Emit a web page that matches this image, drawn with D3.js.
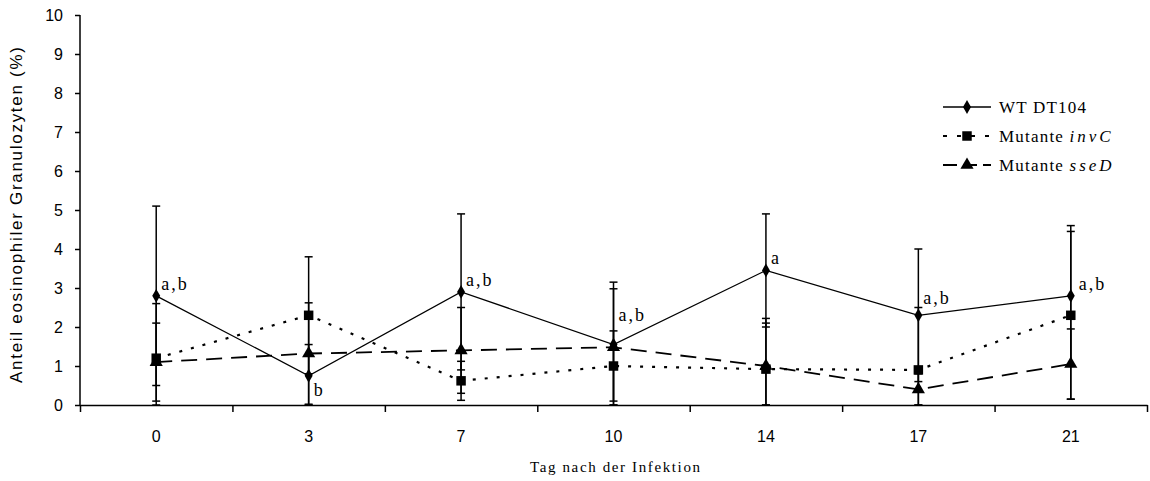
<!DOCTYPE html>
<html>
<head>
<meta charset="utf-8">
<script src="https://cdn.jsdelivr.net/npm/d3@7"></script>
<style>
  body { margin: 0; background: #fff; }
  svg { display: block; }
  .axis path, .axis line { stroke: #000; stroke-width: 1.5px; }
  .axis text { font-family: "Liberation Sans Narrow", "Liberation Sans", sans-serif; font-size: 16px; fill: #000; }
  .sig { font-family: "Liberation Serif", serif; font-size: 18px; letter-spacing: 2px; }
  .legend text { font-family: "Liberation Serif", serif; font-size: 17px; letter-spacing: 1.2px; }
</style>
</head>
<body>
<svg class="chart" width="1150" height="481"></svg>
<script>
const days = ["0", "3", "7", "10", "14", "17", "21"];
const yTicks = [0, 1, 2, 3, 4, 5, 6, 7, 8, 9, 10];

const wtMean = [2.8, 0.75, 2.9, 1.55, 3.45, 2.3, 2.8];
const wtSd = [2.3, 0.8, 2.0, 1.6, 1.45, 1.7, 1.8];
const invcMean = [1.2, 2.3, 0.62, 1.0, 0.92, 0.9, 2.3];
const invcSd = [1.4, 1.5, 0.5, 0.9, 1.3, 1.6, 2.15];
const ssedMean = [1.1, 1.32, 1.4, 1.48, 1.0, 0.4, 1.05];
const ssedSd = [1.0, 1.3, 1.1, 1.5, 1.1, 0.4, 0.9];
const sigLabels = ["a,b", "b", "a,b", "a,b", "a", "a,b", "a,b"];

const svg = d3.select('.chart');
const margin = { top: 15, right: 3, bottom: 76, left: 80 };
const width = +svg.attr('width') - margin.left - margin.right;
const height = +svg.attr('height') - margin.top - margin.bottom;

const x = d3.scaleBand().domain(days).range([0, width]).padding(0);
const xEdges = d3.scaleLinear().domain([0, days.length]).range([0, width]);
const y = d3.scaleLinear().domain([0, 10]).range([height, 0]);

const g = svg.append('g')
  .attr('transform', 'translate(' + margin.left + ',' + margin.top + ')');

const cx = d => x(d) + x.bandwidth() / 2;

// series definitions
const series = [
  { name: 'wt', mean: wtMean, sd: wtSd, dash: null, width: 1.3, marker: d3.symbolDiamond, size: 55 },
  { name: 'invc', mean: invcMean, sd: invcSd, dash: '3,9', width: 2.2, marker: d3.symbolSquare, size: 90 },
  { name: 'ssed', mean: ssedMean, sd: ssedSd, dash: '16,9', width: 1.8, marker: d3.symbolTriangle, size: 75 }
];

// error bars
series.forEach(s => {
  const eb = g.append('g').attr('class', 'errbar ' + s.name);
  days.forEach((d, i) => {
    const hi = s.mean[i] + s.sd[i];
    const lo = Math.max(0, s.mean[i] - s.sd[i]);
    eb.append('line')
      .attr('x1', cx(d)).attr('x2', cx(d))
      .attr('y1', y(hi)).attr('y2', y(lo))
      .attr('stroke', '#000').attr('stroke-width', 1.5);
    [hi, lo].forEach(v => {
      eb.append('line')
        .attr('x1', cx(d) - 4).attr('x2', cx(d) + 4)
        .attr('y1', y(v)).attr('y2', y(v))
        .attr('stroke', '#000').attr('stroke-width', 1.5);
    });
  });
});

// lines + markers
series.forEach(s => {
  const line = d3.line()
    .x((v, i) => cx(days[i]))
    .y(v => y(v));
  g.append('path')
    .datum(s.mean)
    .attr('class', 'line ' + s.name)
    .attr('fill', 'none')
    .attr('stroke', '#000')
    .attr('stroke-width', s.width)
    .attr('stroke-dasharray', s.dash)
    .attr('d', line);
  g.selectAll('.mk-' + s.name)
    .data(s.mean)
    .enter()
    .append('path')
    .attr('class', 'mk-' + s.name)
    .attr('transform', (v, i) => 'translate(' + cx(days[i]) + ',' + y(v) + ')')
    .attr('d', d3.symbol().type(s.marker).size(s.size));
});

// significance letters (placed next to the WT point, nudged like the original)
function sigDy(i) {
  if (i === 1) return 20;
  if (i === 3) return -24;
  if (i === 5) return -11;
  return -6;
}
g.selectAll('.sig')
  .data(sigLabels)
  .enter()
  .append('text')
  .attr('class', 'sig')
  .attr('x', (t, i) => cx(days[i]) + (i === 6 ? 8 : 5))
  .attr('y', (t, i) => y(wtMean[i]) + sigDy(i))
  .text(t => t);

// axes
g.append('g')
  .attr('class', 'axis axis--y')
  .call(d3.axisLeft(y).tickValues(yTicks).tickSize(5).tickSizeOuter(0).tickPadding(12))
  .call(a => a.select('.domain').attr('d', 'M0,' + height + 'V0'));

g.append('g')
  .attr('class', 'axis axis--x-ticks')
  .attr('transform', 'translate(0,' + height + ')')
  .call(d3.axisBottom(xEdges).ticks(days.length).tickSize(7).tickSizeOuter(0).tickFormat(''));

g.append('g')
  .attr('class', 'axis axis--x')
  .attr('transform', 'translate(0,' + height + ')')
  .call(d3.axisBottom(x).tickSize(0).tickPadding(26))
  .call(a => a.select('.domain').remove());

// axis titles
svg.append('text')
  .attr('transform', 'translate(22,215) rotate(-90)')
  .attr('text-anchor', 'middle')
  .attr('font-family', '"Liberation Sans Narrow", "Liberation Sans", sans-serif')
  .attr('font-size', 17)
  .attr('textLength', 336)
  .attr('lengthAdjust', 'spacing')
  .text('Anteil eosinophiler Granulozyten (%)');

svg.append('text')
  .attr('x', 615)
  .attr('y', 472)
  .attr('text-anchor', 'middle')
  .attr('font-family', '"Liberation Serif", serif')
  .attr('font-size', 15)
  .attr('textLength', 170)
  .attr('lengthAdjust', 'spacing')
  .text('Tag nach der Infektion');

// legend
const legendRows = [
  { s: series[0], label: 'WT DT104', it: '' },
  { s: series[1], label: 'Mutante ', it: 'invC' },
  { s: series[2], label: 'Mutante ', it: 'sseD' }
];
const legend = svg.append('g').attr('class', 'legend').attr('transform', 'translate(943,107)');
legendRows.forEach((r, i) => {
  const row = legend.append('g').attr('transform', 'translate(0,' + i * 29 + ')');
  row.append('line')
    .attr('x1', 0).attr('x2', 48)
    .attr('stroke', '#000')
    .attr('stroke-width', r.s.width)
    .attr('stroke-dasharray', r.s.name === 'invc' ? '4,10' : r.s.name === 'ssed' ? '14,6' : null);
  row.append('path')
    .attr('transform', 'translate(24,0)')
    .attr('d', d3.symbol().type(r.s.marker).size(r.s.size));
  const t = row.append('text').attr('x', 56).attr('y', 6);
  t.append('tspan').text(r.label);
  if (r.it) t.append('tspan').attr('font-style', 'italic').attr('letter-spacing', 3).text(r.it);
});
</script>
</body>
</html>
